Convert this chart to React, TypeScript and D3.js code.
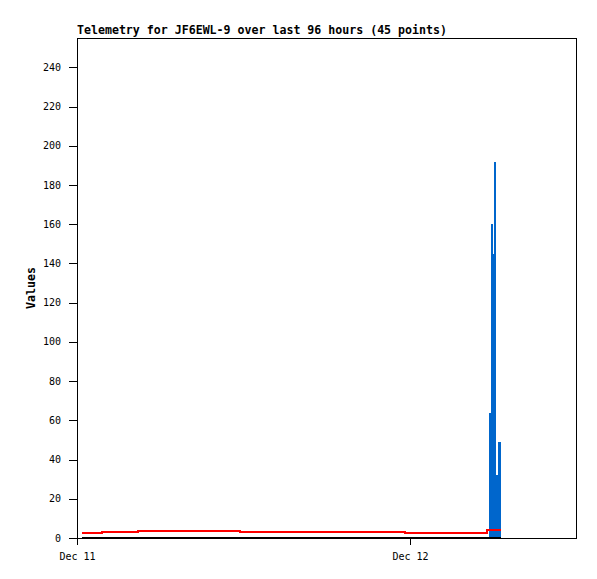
import React from "react";
import * as d3 from "d3";

const title = "Telemetry for JF6EWL-9 over last 96 hours (45 points)";
const yLabel = "Values";

// red series (step line)
const redTimes = ["2023-12-11T00:22", "2023-12-11T01:48", "2023-12-11T04:24", "2023-12-11T11:45", "2023-12-11T23:36", "2023-12-12T05:33", "2023-12-12T06:30"];
const redValues = [2.7, 3.2, 3.7, 3.2, 2.7, 4.1, 4.1];

// black series (zero line)
const blackTimes = ["2023-12-11T00:22", "2023-12-12T06:30"];
const blackValues = [0, 0];

// blue series (impulses)
const blueTimes = ["2023-12-12T05:39", "2023-12-12T05:47", "2023-12-12T05:55", "2023-12-12T06:01", "2023-12-12T06:09", "2023-12-12T06:14", "2023-12-12T06:20", "2023-12-12T06:30"];
const blueValues = [64, 160, 145, 192, 32, 25, 49];

const yTicks = [0, 20, 40, 60, 80, 100, 120, 140, 160, 180, 200, 220, 240];
const xTicks = ["2023-12-11T00:00", "2023-12-12T00:00"];
const xDomain = ["2023-12-11T00:00", "2023-12-12T12:00"];

export default function App() {
  const W = 597, H = 579;
  const margin = { top: 38, right: 20, bottom: 41, left: 77 };
  const parse = (s: string) => new Date(s);

  const x = d3.scaleTime().domain(xDomain.map(parse) as [Date, Date]).range([margin.left, W - margin.right]);
  const y = d3.scaleLinear().domain([0, 255]).range([H - margin.bottom, margin.top]);

  const line = d3.line<[Date, number]>().x(d => x(d[0])).y(d => y(d[1])).curve(d3.curveStepAfter);
  const red = redTimes.map((t, i) => [parse(t), redValues[i]] as [Date, number]);
  const black = blackTimes.map((t, i) => [parse(t), blackValues[i]] as [Date, number]);

  const font = "'DejaVu Sans Mono', monospace";
  const y0 = y(0);
  const fmt = d3.timeFormat("%b %d");

  return (
    <div style={{ position: "fixed", left: 0, top: 0 }}>
      <svg width={W} height={H} style={{ display: "block", background: "#fff" }}>
        <text x={margin.left} y={34} fontFamily={font} fontSize={11.6} fontWeight="bold">{title}</text>
        <text transform={`translate(35,${(margin.top + y0) / 2}) rotate(-90)`} textAnchor="middle" fontFamily={font} fontSize={11.6} fontWeight="bold">{yLabel}</text>

        {/* blue impulses */}
        <g shapeRendering="crispEdges">
          {blueValues.map((v, i) => {
            const x0 = x(parse(blueTimes[i]));
            const x1 = x(parse(blueTimes[i + 1]));
            return <rect key={i} x={x0} y={y(v)} width={Math.max(1, x1 - x0) + 0.6} height={y0 - y(v)} fill="#0066cc" />;
          })}
        </g>

        <path d={line(black) || ""} fill="none" stroke="#000" strokeWidth={2} shapeRendering="crispEdges" />
        <path d={line(red) || ""} fill="none" stroke="#ff0000" strokeWidth={2} shapeRendering="crispEdges" />

        {/* frame */}
        <rect x={margin.left + 0.5} y={margin.top + 0.5} width={W - margin.left - margin.right - 1} height={H - margin.top - margin.bottom} fill="none" stroke="#000" strokeWidth={1} />

        {yTicks.map(t => (
          <g key={t}>
            <line x1={69} x2={margin.left} y1={Math.round(y(t)) + 0.5} y2={Math.round(y(t)) + 0.5} stroke="#000" />
            <text x={61} y={y(t)} dy="0.35em" textAnchor="end" fontFamily={font} fontSize={10}>{t}</text>
          </g>
        ))}
        {xTicks.map(t => {
          const px = Math.round(x(parse(t))) + 0.5;
          return (
            <g key={t}>
              <line x1={px} x2={px} y1={y0} y2={y0 + 7} stroke="#000" />
              <text x={px} y={560} textAnchor="middle" fontFamily={font} fontSize={10}>{fmt(parse(t))}</text>
            </g>
          );
        })}
      </svg>
    </div>
  );
}
